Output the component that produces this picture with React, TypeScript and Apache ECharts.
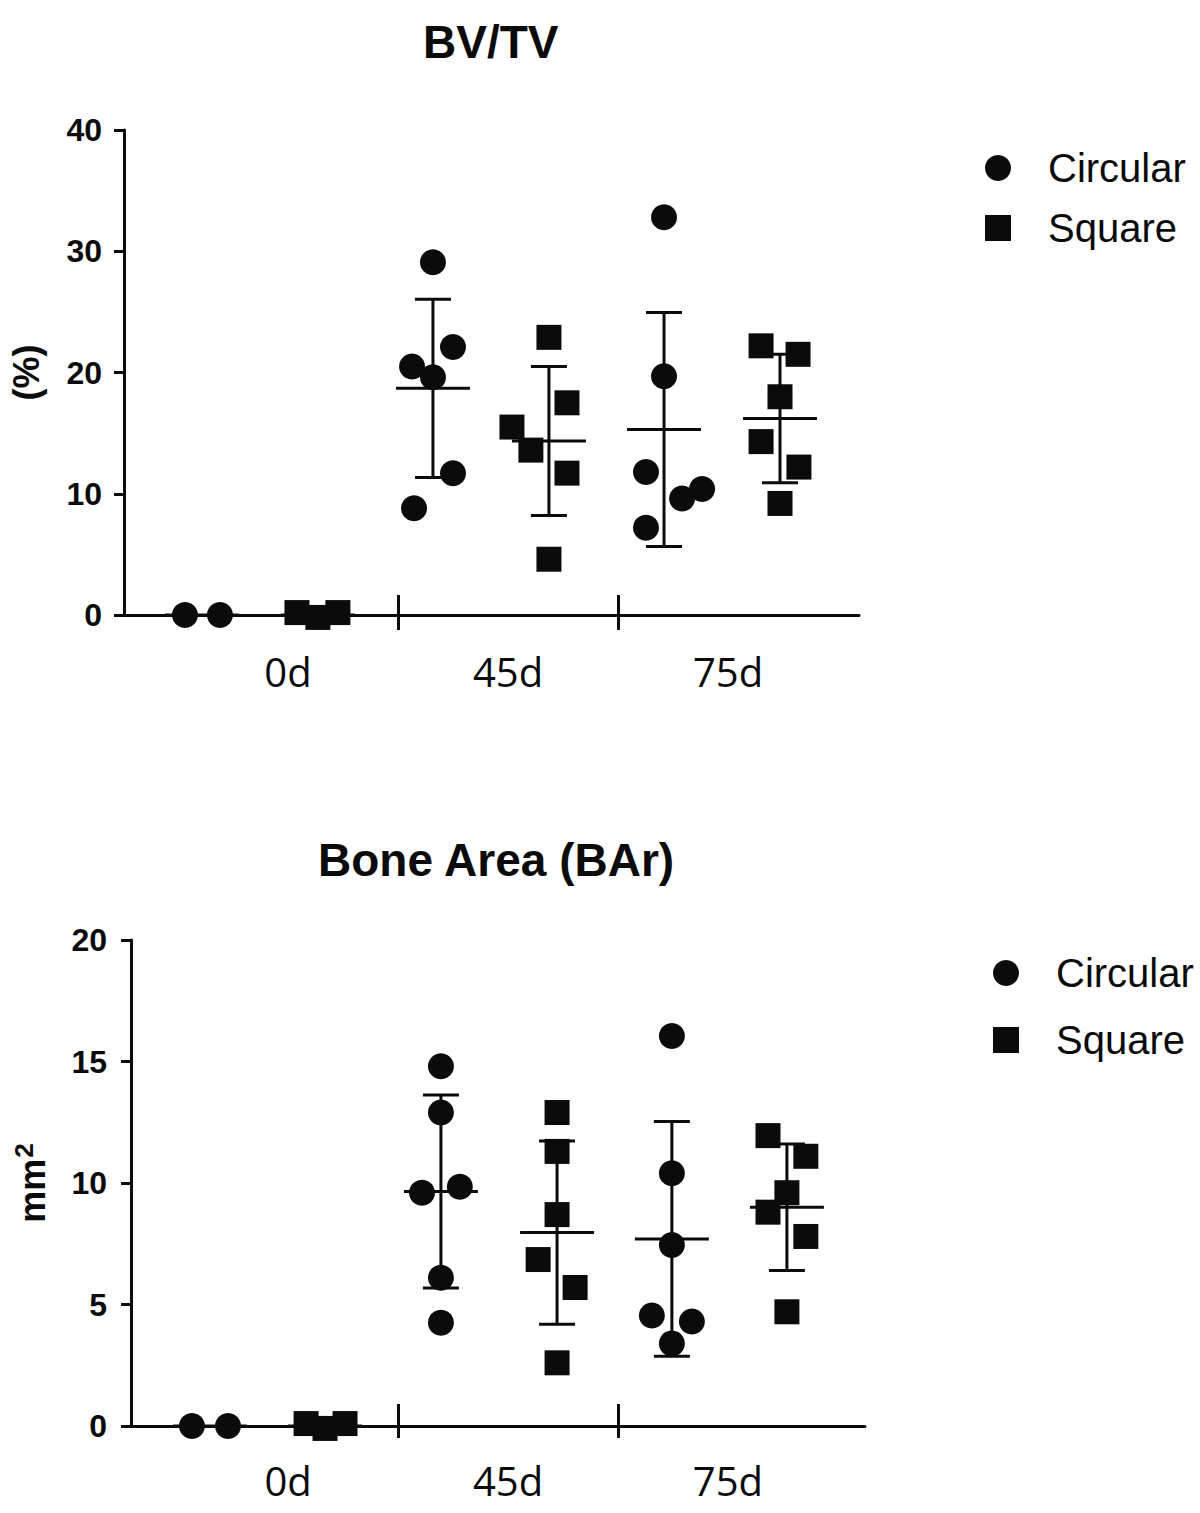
import React, { useEffect, useRef } from "react";
import * as echarts from "echarts";

// ---------- data ----------
const categories = ["0d", "45d", "75d"];
const categoryPos = [0, 1, 2];
const separators = [0.5, 1.5];

// Panel 1: BV/TV (%)
const bvCircX = [-0.391, 0.659, 1.709];
const bvSqX = [0.136, 1.186, 2.236];
const bvCircJitter = [
  [-0.077, 0.082],
  [0, 0.091, -0.095, 0, 0.091, -0.086],
  [0, 0, -0.082, 0.082, 0.173, -0.082],
];
const bvCircVals = [
  [0, 0],
  [29.1, 22.1, 20.5, 19.6, 11.7, 8.8],
  [32.8, 19.7, 11.8, 9.6, 10.4, 7.2],
];
const bvSqJitter = [
  [-0.095, 0, 0.091],
  [0, 0.082, -0.168, -0.082, 0.082, 0],
  [-0.086, 0.082, 0, -0.086, 0.086, 0],
];
const bvSqVals = [
  [0.2, -0.2, 0.2],
  [22.9, 17.5, 15.5, 13.6, 11.7, 4.6],
  [22.2, 21.5, 18.0, 14.3, 12.2, 9.2],
];
const bvCircMean = [0, 18.7, 15.3];
const bvCircSD = [0, 7.35, 9.65];
const bvSqMean = [0, 14.35, 16.2];
const bvSqSD = [0, 6.15, 5.3];

// Panel 2: Bone Area (mm^2)
const baCircX = [-0.355, 0.695, 1.745];
const baSqX = [0.168, 1.223, 2.268];
const baCircJitter = [
  [-0.082, 0.082],
  [0, 0, -0.086, 0.086, 0, 0],
  [0, 0, 0, -0.091, 0.091, 0],
];
const baCircVals = [
  [0, 0],
  [14.8, 12.9, 9.6, 9.85, 6.1, 4.25],
  [16.05, 10.4, 7.45, 4.55, 4.3, 3.4],
];
const baSqJitter = [
  [-0.086, 0, 0.091],
  [0, 0, 0, -0.086, 0.082, 0],
  [-0.086, 0.086, 0, -0.086, 0.086, 0],
];
const baSqVals = [
  [0.1, -0.1, 0.1],
  [12.9, 11.3, 8.7, 6.85, 5.7, 2.6],
  [11.95, 11.1, 9.6, 8.8, 7.8, 4.7],
];
const baCircMean = [0, 9.65, 7.7];
const baCircSD = [0, 3.97, 4.83];
const baSqMean = [0, 7.96, 9.0];
const baSqSD = [0, 3.77, 2.6];

// ---------- helpers ----------
const INK = "#0b0b0b";

function points(centers: number[], jitter: number[][], vals: number[][]) {
  const out: number[][] = [];
  centers.forEach((c, i) => {
    vals[i].forEach((v, j) => out.push([c + jitter[i][j], v]));
  });
  return out;
}

function bars(centers: number[], means: number[], sds: number[]) {
  return centers.map((c, i) => [c, means[i], sds[i]]);
}

function errorRender(params: any, api: any) {
  const x = api.value(0);
  const m = api.value(1);
  const sd = api.value(2);
  const c = api.coord([x, m]);
  const t = api.coord([x, m + sd]);
  const b = api.coord([x, m - sd]);
  const st = { stroke: INK, lineWidth: 3, fill: null };
  const children: any[] = [
    { type: "line", shape: { x1: c[0] - 37, y1: c[1], x2: c[0] + 37, y2: c[1] }, style: st },
  ];
  if (sd > 0) {
    children.push(
      { type: "line", shape: { x1: c[0], y1: t[1], x2: c[0], y2: b[1] }, style: st },
      { type: "line", shape: { x1: c[0] - 18, y1: t[1], x2: c[0] + 18, y2: t[1] }, style: st },
      { type: "line", shape: { x1: c[0] - 18, y1: b[1], x2: c[0] + 18, y2: b[1] }, style: st }
    );
  }
  return { type: "group", children };
}

function xAxes(gridIndex: number, min: number, max: number, labelMargin: number, inLen: number, outLen: number) {
  return [
    {
      type: "value",
      gridIndex,
      position: "bottom",
      min,
      max,
      splitLine: { show: false },
      axisLine: { show: true, onZero: false, lineStyle: { color: INK, width: 3 } },
      axisTick: { show: true, customValues: separators, length: outLen, lineStyle: { color: INK, width: 3 } },
      axisLabel: {
        show: true,
        customValues: categoryPos,
        margin: labelMargin,
        formatter: (v: number) => categories[Math.round(v)] ?? "",
        fontFamily: "Open Sans",
        fontSize: 40,
        color: INK,
      },
    },
    {
      type: "value",
      gridIndex,
      position: "bottom",
      offset: 0,
      min,
      max,
      splitLine: { show: false },
      axisLine: { show: false, onZero: false },
      axisTick: { show: true, inside: true, customValues: separators, length: inLen, lineStyle: { color: INK, width: 3 } },
      axisLabel: { show: false },
    },
  ];
}

function yAxis(gridIndex: number, max: number, interval: number, name: string, nameGap: number, labelMargin: number, rich?: any) {
  return {
    type: "value",
    gridIndex,
    min: 0,
    max,
    interval,
    name,
    nameLocation: "middle",
    nameRotate: 90,
    nameGap,
    nameTextStyle: { fontFamily: "Liberation Sans", fontWeight: "bold", fontSize: 36, color: INK, rich },
    splitLine: { show: false },
    axisLine: { show: true, onZero: false, lineStyle: { color: INK, width: 3 } },
    axisTick: { show: true, length: 10, lineStyle: { color: INK, width: 3 } },
    axisLabel: { fontFamily: "Liberation Sans", fontWeight: "bold", fontSize: 32, color: INK, margin: labelMargin },
  };
}

function scatter(name: string, symbol: string, size: number, xi: number, yi: number, data: number[][]) {
  return {
    type: "scatter",
    name,
    symbol,
    symbolSize: size,
    xAxisIndex: xi,
    yAxisIndex: yi,
    clip: false,
    itemStyle: { color: INK, opacity: 1 },
    data,
    z: 3,
  };
}

function errSeries(name: string, xi: number, yi: number, data: number[][]) {
  return {
    type: "custom",
    name,
    xAxisIndex: xi,
    yAxisIndex: yi,
    clip: false,
    renderItem: errorRender,
    encode: { x: 0, y: 1 },
    data,
    z: 4,
  };
}

function legend(left: number, top: number, gap: number) {
  return {
    left,
    top,
    orient: "vertical",
    itemWidth: 26,
    itemHeight: 26,
    itemGap: gap,
    selectedMode: false,
    data: [
      { name: "Circular", icon: "circle" },
      { name: "Square", icon: "rect" },
    ],
    itemStyle: { color: INK },
    textStyle: {
      fontFamily: "Liberation Sans",
      fontSize: 40,
      color: INK,
      padding: [0, 0, 0, 32],
      lineHeight: 26,
    },
  };
}

export default function App() {
  const ref = useRef<HTMLDivElement>(null);
  useEffect(() => {
    if (!ref.current) return;
    const chart = echarts.init(ref.current, null, { renderer: "svg" });
    const option: any = {
      animation: false,
      backgroundColor: "#ffffff",
      title: [
        {
          text: "BV/TV",
          left: 418,
          top: 14,
          padding: 5,
          textStyle: { fontFamily: "Liberation Sans", fontWeight: "bold", fontSize: 46, color: INK },
        },
        {
          text: "Bone Area (BAr)",
          left: 313,
          top: 832,
          padding: 5,
          textStyle: { fontFamily: "Liberation Sans", fontWeight: "bold", fontSize: 46, color: INK },
        },
      ],
      legend: [legend(980, 143, 20), legend(988, 948, 27)],
      grid: [
        { left: 124, right: 341, top: 130, bottom: 898, containLabel: false },
        { left: 131, right: 335, top: 940, bottom: 87, containLabel: false },
      ],
      xAxis: [...xAxes(0, -0.745, 2.595, 36, 20, 15), ...xAxes(1, -0.714, 2.623, 34, 22, 12)],
      yAxis: [
        yAxis(0, 40, 10, "(%)", 80, 22),
        yAxis(1, 20, 5, "{a|mm}{b|2}", 78, 24, {
          a: { fontFamily: "Liberation Sans", fontWeight: "bold", fontSize: 36, color: INK },
          b: { fontFamily: "Liberation Sans", fontWeight: "bold", fontSize: 26, color: INK, verticalAlign: "top", padding: [0, 0, 16, 1] },
        }),
      ],
      series: [
        scatter("Circular", "circle", 26, 0, 0, points(bvCircX, bvCircJitter, bvCircVals)),
        scatter("Square", "rect", 25, 0, 0, points(bvSqX, bvSqJitter, bvSqVals)),
        errSeries("Circular mean ± SD", 0, 0, bars(bvCircX, bvCircMean, bvCircSD)),
        errSeries("Square mean ± SD", 0, 0, bars(bvSqX, bvSqMean, bvSqSD)),
        scatter("Circular", "circle", 26, 2, 1, points(baCircX, baCircJitter, baCircVals)),
        scatter("Square", "rect", 25, 2, 1, points(baSqX, baSqJitter, baSqVals)),
        errSeries("Circular mean ± SD", 2, 1, bars(baCircX, baCircMean, baCircSD)),
        errSeries("Square mean ± SD", 2, 1, bars(baSqX, baSqMean, baSqSD)),
      ],
    };
    chart.setOption(option);
    return () => chart.dispose();
  }, []);
  return (
    <div
      ref={ref}
      style={{ position: "absolute", left: 0, top: 0, width: 1200, height: 1513, background: "#fff" }}
    />
  );
}
